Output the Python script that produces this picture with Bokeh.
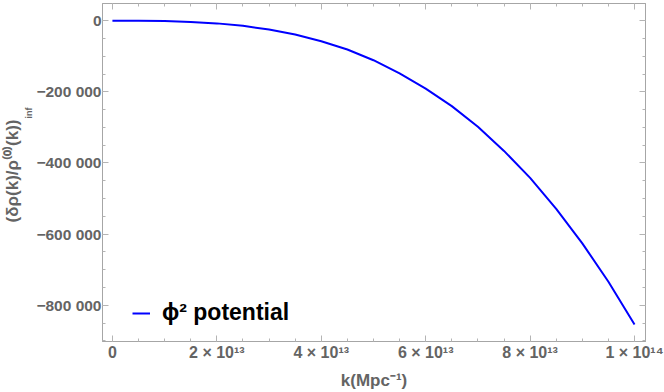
import numpy as np
from bokeh.plotting import figure
from bokeh.models import (FixedTicker, LinearAxis, Legend, LegendItem, Title, Range1d,
                          CustomLabelingPolicy)
from bokeh.embed import file_html
from bokeh.resources import INLINE

# ---- data ----
k_vals = [0.0, 0.5e13, 1.0e13, 1.5e13, 2.0e13, 2.5e13, 3.0e13, 3.5e13, 4.0e13, 4.5e13,
          5.0e13, 5.5e13, 6.0e13, 6.5e13, 7.0e13, 7.5e13, 8.0e13, 8.5e13, 9.0e13, 9.5e13, 1.0e14]
delta_vals = [0, -120, -960, -3200, -7400, -14300, -24800, -38800, -57500, -81000,
              -111000, -148000, -191000, -240000, -298000, -366000, -442000, -529000,
              -626000, -734000, -854000]

x_ticks = [0.0, 2e13, 4e13, 6e13, 8e13, 1e14]
x_tick_labels = ["0", "2 × 10¹³", "4 × 10¹³", "6 × 10¹³", "8 × 10¹³", "1 × 10¹⁴"]
y_ticks = [0.0, -200000.0, -400000.0, -600000.0, -800000.0]
y_tick_labels = ["0", "−200 000", "−400 000", "−600 000", "−800 000"]

series_label = "ϕ² potential"
x_title = "k(Mpc⁻¹)"
y_title_main = "(δρ(k)/ρ⁽⁰⁾(k))"
y_title_sub = "inf"

FONT = "Liberation Sans"
GRAY_TXT = "#646464"
FRAME = "#a6a6a6"
TICK = "#b4b4b4"

x_minor = list(np.arange(0, 1.0e14 + 1, 0.5e13))
y_minor = list(np.arange(-900000, 1, 50000))

p = figure(width=664, height=392, output_backend="svg", toolbar_location=None,
           x_range=Range1d(-0.19e13, 10.21e13), y_range=Range1d(-902000, 48500),
           x_axis_type=None, y_axis_type=None,
           min_border_left=100, min_border_right=19, min_border_top=3, min_border_bottom=51)
p.xgrid.visible = False
p.ygrid.visible = False
p.outline_line_color = FRAME
p.outline_line_width = 1
p.background_fill_color = "white"
p.border_fill_color = "white"

xt = FixedTicker(ticks=x_ticks, minor_ticks=x_minor)
yt = FixedTicker(ticks=y_ticks, minor_ticks=y_minor)


def style(ax, labels=True):
    ax.axis_line_color = FRAME
    ax.major_tick_line_color = TICK
    ax.minor_tick_line_color = TICK
    ax.major_tick_in = 6
    ax.major_tick_out = 0
    ax.minor_tick_in = 3
    ax.minor_tick_out = 0
    if labels:
        ax.major_label_text_font = FONT
        ax.major_label_text_font_style = "bold"
        ax.major_label_text_font_size = "16px"
        ax.major_label_text_color = GRAY_TXT
    else:
        ax.major_label_text_font_size = "0px"
        ax.major_label_standoff = 0
        ax.major_label_policy = CustomLabelingPolicy(
            code="return new indices.constructor(indices.size)")


xb = LinearAxis(ticker=xt)
style(xb)
xb.major_label_overrides = dict(zip(x_ticks, x_tick_labels))
xb.major_label_standoff = 2
xb.axis_label = x_title
xb.axis_label_text_font = FONT
xb.axis_label_text_font_style = "bold"
xb.axis_label_text_font_size = "17px"
xb.axis_label_text_color = GRAY_TXT
xb.axis_label_standoff = 7
p.add_layout(xb, "below")

yl = LinearAxis(ticker=yt)
style(yl)
yl.major_label_text_font_size = "15.5px"
yl.major_label_overrides = dict(zip(y_ticks, y_tick_labels))
yl.major_label_standoff = 1
p.add_layout(yl, "left")

xtop = LinearAxis(ticker=xt)
style(xtop, labels=False)
p.add_layout(xtop, "above")
yr = LinearAxis(ticker=yt)
style(yr, labels=False)
p.add_layout(yr, "right")

r = p.line(k_vals, delta_vals, line_color="#0000ff", line_width=2)

legend = Legend(items=[LegendItem(label=series_label, renderers=[r])], location=(30, 15),
                label_text_font=FONT, label_text_font_style="bold", label_text_font_size="23px",
                label_text_color="black", glyph_width=18, label_standoff=12,
                padding=0, margin=0, border_line_color=None, background_fill_alpha=0)
p.add_layout(legend, "center")

# rotated y-axis title: subscript panel next to the axis, main text outside it
p.add_layout(Title(text=y_title_sub, align="right", offset=104, standoff=0,
                   text_font=FONT, text_font_style="bold", text_font_size="9px",
                   text_color=GRAY_TXT), "left")
p.add_layout(Title(text=y_title_main, align="right", offset=116, standoff=0,
                   text_font=FONT, text_font_style="bold", text_font_size="17px",
                   text_color=GRAY_TXT), "left")

open("out.html", "w").write(file_html(p, INLINE))
